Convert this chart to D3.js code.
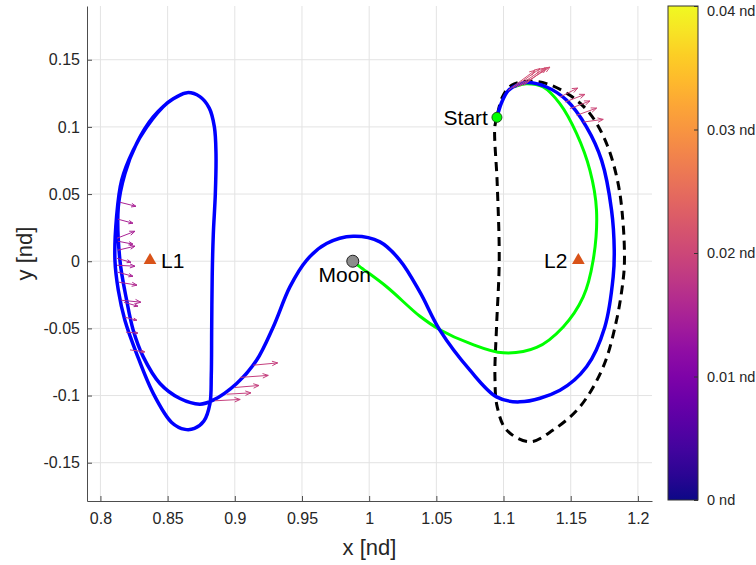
<!DOCTYPE html>
<html>
<head>
<meta charset="utf-8">
<script src="https://cdn.jsdelivr.net/npm/d3@7"></script>
<style>
  body { margin: 0; background: #fff; }
  svg { font-family: "Liberation Sans", Arial, Helvetica, sans-serif; }
</style>
</head>
<body>
<div id="chart"></div>
<script>
// ---- data (nondimensional CR3BP units) ----
const xTicks = [0.8, 0.85, 0.9, 0.95, 1, 1.05, 1.1, 1.15, 1.2];
const yTicks = [-0.15, -0.1, -0.05, 0, 0.05, 0.1, 0.15];
const cTicks = [0, 0.01, 0.02, 0.03, 0.04];

// controlled trajectory (blue)
const trajX = [1.0951, 1.0985, 1.1035, 1.1097, 1.1172, 1.1320, 1.1470, 1.1618, 1.1730, 1.1804, 1.1824, 1.1816, 1.1754, 1.1618, 1.1420, 1.1122, 1.0948, 1.0750, 1.0526, 1.0378, 1.0229, 1.0080, 0.9881, 0.9683, 0.9534, 0.9410, 0.9286, 0.9162, 0.9014, 0.8839, 0.8740, 0.8592, 0.8443, 0.8319, 0.8244, 0.8195, 0.8145, 0.8133, 0.8182, 0.8269, 0.8393, 0.8542, 0.8646, 0.8740, 0.8810, 0.8848, 0.8860, 0.8855, 0.8840, 0.8832, 0.8828, 0.8825, 0.8815, 0.8770, 0.8700, 0.8630, 0.8530, 0.8393, 0.8269, 0.8182, 0.8133, 0.8108, 0.8120, 0.8158, 0.8244, 0.8344, 0.8500, 0.8620];
const trajY = [0.1071, 0.1180, 0.1270, 0.1310, 0.1330, 0.1297, 0.1198, 0.0999, 0.0751, 0.0380, 0.0080, -0.0117, -0.0489, -0.0786, -0.0960, -0.1047, -0.1010, -0.0811, -0.0513, -0.0230, 0.0007, 0.0144, 0.0186, 0.0132, 0.0007, -0.0191, -0.0489, -0.0737, -0.0910, -0.1034, -0.1064, -0.1022, -0.0910, -0.0712, -0.0513, -0.0290, 0.0007, 0.0404, 0.0652, 0.0876, 0.1074, 0.1210, 0.1255, 0.1225, 0.1140, 0.1000, 0.0800, 0.0500, 0.0200, -0.0100, -0.0500, -0.0850, -0.1060, -0.1190, -0.1245, -0.1252, -0.1200, -0.0984, -0.0687, -0.0439, -0.0216, 0.0007, 0.0330, 0.0603, 0.0826, 0.0999, 0.1180, 0.1250];

// reference arc from Moon (green)
const refX = [0.9878, 0.9930, 1.0130, 1.0378, 1.0526, 1.0750, 1.0998, 1.1246, 1.1444, 1.1593, 1.1667, 1.1692, 1.1643, 1.1544, 1.1419, 1.1295, 1.1172, 1.1080];
const refY = [0.0000, -0.0040, -0.0190, -0.0410, -0.0510, -0.0612, -0.0682, -0.0642, -0.0489, -0.0266, 0.0007, 0.0380, 0.0677, 0.0950, 0.1173, 0.1297, 0.1322, 0.1300];

// initial periodic orbit (black dashed)
const orbX = [1.0951, 1.0935, 1.0953, 1.0968, 1.0948, 1.0936, 1.0953, 1.1023, 1.1196, 1.1369, 1.1568, 1.1742, 1.1841, 1.1890, 1.1900, 1.1890, 1.1853, 1.1767, 1.1643, 1.1494, 1.1320, 1.1172, 1.1060, 1.0990, 1.0951];
const orbY = [0.1071, 0.1000, 0.0578, 0.0007, -0.0489, -0.0860, -0.1084, -0.1257, -0.1344, -0.1257, -0.1084, -0.0786, -0.0439, -0.0141, 0.0000, 0.0280, 0.0578, 0.0876, 0.1099, 0.1235, 0.1322, 0.1340, 0.1310, 0.1220, 0.1071];

// thrust arrows
const arrX = [0.8145, 0.8130, 0.8123, 0.8130, 0.8130, 0.8123, 0.8123, 0.8130, 0.8138, 0.8152, 0.8175, 0.8182, 0.8190, 0.8220,
              0.9137, 0.9038, 0.9001, 0.8939, 0.8852,
              1.1035, 1.1072, 1.1097, 1.1122, 1.1150,
              1.1420, 1.1457, 1.1494, 1.1544, 1.1593];
const arrY = [0.0439, 0.0313, 0.0171, 0.0149, 0.0082, 0.0022, -0.0030, -0.0082, -0.0156, -0.0290, -0.0305, -0.0417, -0.0528, -0.0660,
              -0.0774, -0.0865, -0.0940, -0.0990, -0.1039,
              0.1272, 0.1290, 0.1297, 0.1304, 0.1310,
              0.1222, 0.1185, 0.1136, 0.1086, 0.1036];
const arrU = [0.0119, 0.0112, 0.0134, 0.0112, 0.0127, 0.0104, 0.0134, 0.0112, 0.0134, 0.0149, 0.0104, 0.0089, 0.0089, 0.0110,
              0.0182, 0.0211, 0.0179, 0.0181, 0.0188,
              0.0199, 0.0199, 0.0211, 0.0223, 0.0170,
              0.0132, 0.0149, 0.0149, 0.0149, 0.0149];
const arrV = [-0.0030, -0.0030, 0.0052, -0.0022, 0.0030, -0.0030, -0.0007, -0.0030, -0.0022, -0.0015, -0.0030, -0.0022, -0.0007, -0.0015,
              0.0017, 0.0015, 0.0015, 0.0010, 0.0010,
              0.0149, 0.0144, 0.0141, 0.0141, 0.0130,
              0.0067, 0.0057, 0.0057, 0.0054, 0.0020];
const arrMag = [0.015, 0.015, 0.015, 0.015, 0.015, 0.015, 0.015, 0.015, 0.016, 0.016, 0.016, 0.017, 0.017, 0.018,
                0.019, 0.019, 0.019, 0.019, 0.019,
                0.021, 0.021, 0.021, 0.021, 0.021,
                0.020, 0.020, 0.020, 0.020, 0.020];

const moon = [0.9878, 0];
const start = [1.0951, 0.1071];
const libPts = [{ name: "L1", x: 0.8369 }, { name: "L2", x: 1.1557 }];

// ---- layout ----
const W = 756, H = 565;
const svg = d3.select("#chart").append("svg")
  .attr("width", W).attr("height", H);

const x = d3.scaleLinear().domain([0.79, 1.2105]).range([87, 652]);
const y = d3.scaleLinear().domain([-0.1785, 0.19]).range([501, 6]);
const c = d3.scaleLinear().domain([0, 0.04]).range([500, 6]);
const color = m => d3.interpolatePlasma(m / 0.04);

const fmt = d => String(+d.toFixed(2));

// grid
const grid = svg.append("g").attr("stroke", "#e3e3e3").attr("stroke-width", 1);
grid.selectAll(".gx").data(xTicks).join("line")
  .attr("x1", d => x(d)).attr("x2", d => x(d))
  .attr("y1", y.range()[0]).attr("y2", y.range()[1]);
grid.selectAll(".gy").data(yTicks).join("line")
  .attr("y1", d => y(d)).attr("y2", d => y(d))
  .attr("x1", x.range()[0]).attr("x2", x.range()[1]);

// axes
const xAxis = svg.append("g")
  .attr("transform", `translate(0,${y.range()[0]})`)
  .call(d3.axisBottom(x).tickValues(xTicks).tickFormat(fmt).tickSize(-5).tickSizeOuter(0).tickPadding(12));
const yAxis = svg.append("g")
  .attr("transform", `translate(${x.range()[0]},0)`)
  .call(d3.axisLeft(y).tickValues(yTicks).tickFormat(fmt).tickSize(-5).tickSizeOuter(0).tickPadding(7));
[xAxis, yAxis].forEach(g => {
  g.selectAll("text").attr("font-size", 16).attr("fill", "#262626");
  g.selectAll("line").attr("stroke", "#4d4d4d");
  g.select(".domain").attr("stroke", "#4d4d4d");
  g.attr("font-family", null);
});

svg.append("text").attr("x", 369.5).attr("y", 555)
  .attr("text-anchor", "middle").attr("font-size", 22).attr("fill", "#262626")
  .text("x [nd]");
svg.append("text").attr("transform", "translate(32,253.5) rotate(-90)")
  .attr("text-anchor", "middle").attr("font-size", 22).attr("fill", "#262626")
  .text("y [nd]");

// curves
const line = d3.line().x(d => x(d[0])).y(d => y(d[1])).curve(d3.curveCatmullRom.alpha(0.5));
const zipXY = (a, b) => a.map((v, i) => [v, b[i]]);

const plot = svg.append("g");
plot.append("path").attr("d", line(zipXY(orbX, orbY)))
  .attr("fill", "none").attr("stroke", "#000").attr("stroke-width", 3)
  .attr("stroke-dasharray", "9,6");
plot.append("path").attr("d", line(zipXY(refX, refY)))
  .attr("fill", "none").attr("stroke", "#00ff00").attr("stroke-width", 3);
plot.append("path").attr("d", line(zipXY(trajX, trajY)))
  .attr("fill", "none").attr("stroke", "#0000ff").attr("stroke-width", 3.5)
  .attr("stroke-linejoin", "round");

// thrust arrows
const arrows = plot.append("g").attr("fill", "none").attr("stroke-width", 1);
arrX.forEach((ax, i) => {
  const x0 = x(ax), y0 = y(arrY[i]);
  const x1 = x(ax + arrU[i]), y1 = y(arrY[i] + arrV[i]);
  const ang = Math.atan2(y1 - y0, x1 - x0);
  const len = Math.hypot(x1 - x0, y1 - y0);
  const hl = Math.min(6, len * 0.3), ha = 0.38;
  const p = d3.path();
  p.moveTo(x0, y0); p.lineTo(x1, y1);
  p.moveTo(x1 - hl * Math.cos(ang - ha), y1 - hl * Math.sin(ang - ha));
  p.lineTo(x1, y1);
  p.lineTo(x1 - hl * Math.cos(ang + ha), y1 - hl * Math.sin(ang + ha));
  arrows.append("path").attr("d", p.toString()).attr("stroke", color(arrMag[i]));
});

// Lagrange points
const tri = d3.symbol().type(d3.symbolTriangle).size(70);
libPts.forEach(l => {
  plot.append("path").attr("d", tri())
    .attr("transform", `translate(${x(l.x)},${y(0) - 1})`)
    .attr("fill", "#D95319");
});
svg.append("text").attr("x", x(libPts[0].x) + 11).attr("y", y(0) + 7)
  .attr("font-size", 21).attr("fill", "#000").text("L1");
svg.append("text").attr("x", x(libPts[1].x) - 11).attr("y", y(0) + 7)
  .attr("text-anchor", "end").attr("font-size", 21).attr("fill", "#000").text("L2");

// Moon
plot.append("circle").attr("cx", x(moon[0])).attr("cy", y(moon[1])).attr("r", 6)
  .attr("fill", "#8c8c8c").attr("stroke", "#222").attr("stroke-width", 1);
svg.append("text").attr("x", x(moon[0]) - 8).attr("y", y(moon[1]) + 21)
  .attr("text-anchor", "middle").attr("font-size", 21).attr("fill", "#000").text("Moon");

// Start
plot.append("circle").attr("cx", x(start[0])).attr("cy", y(start[1])).attr("r", 5)
  .attr("fill", "#00ff00").attr("stroke", "#1a5a1a").attr("stroke-width", 1);
svg.append("text").attr("x", x(start[0]) - 9).attr("y", y(start[1]) + 8)
  .attr("text-anchor", "end").attr("font-size", 21).attr("fill", "#000").text("Start");

// colorbar
const defs = svg.append("defs");
const grad = defs.append("linearGradient").attr("id", "cbar")
  .attr("x1", 0).attr("y1", 1).attr("x2", 0).attr("y2", 0);
d3.range(0, 1.0001, 0.05).forEach(t => {
  grad.append("stop").attr("offset", t).attr("stop-color", d3.interpolatePlasma(t));
});
const cbX = 668, cbW = 30;
svg.append("rect").attr("x", cbX).attr("y", c.range()[1])
  .attr("width", cbW).attr("height", c.range()[0] - c.range()[1])
  .attr("fill", "url(#cbar)").attr("stroke", "#333").attr("stroke-width", 1);
const cAxis = svg.append("g")
  .attr("transform", `translate(${cbX + cbW},0)`)
  .call(d3.axisRight(c).tickValues(cTicks).tickFormat(d => fmt(d) + " nd").tickSize(-4).tickSizeOuter(0).tickPadding(9));
cAxis.select(".domain").remove();
cAxis.selectAll("line").attr("stroke", "#333");
cAxis.selectAll("text").attr("font-size", 14.5).attr("fill", "#262626");
// keep the top label inside the frame
cAxis.selectAll(".tick").filter(d => d === 0.04).select("text").attr("dy", "0.62em");
cAxis.attr("font-family", null);
</script>
</body>
</html>
